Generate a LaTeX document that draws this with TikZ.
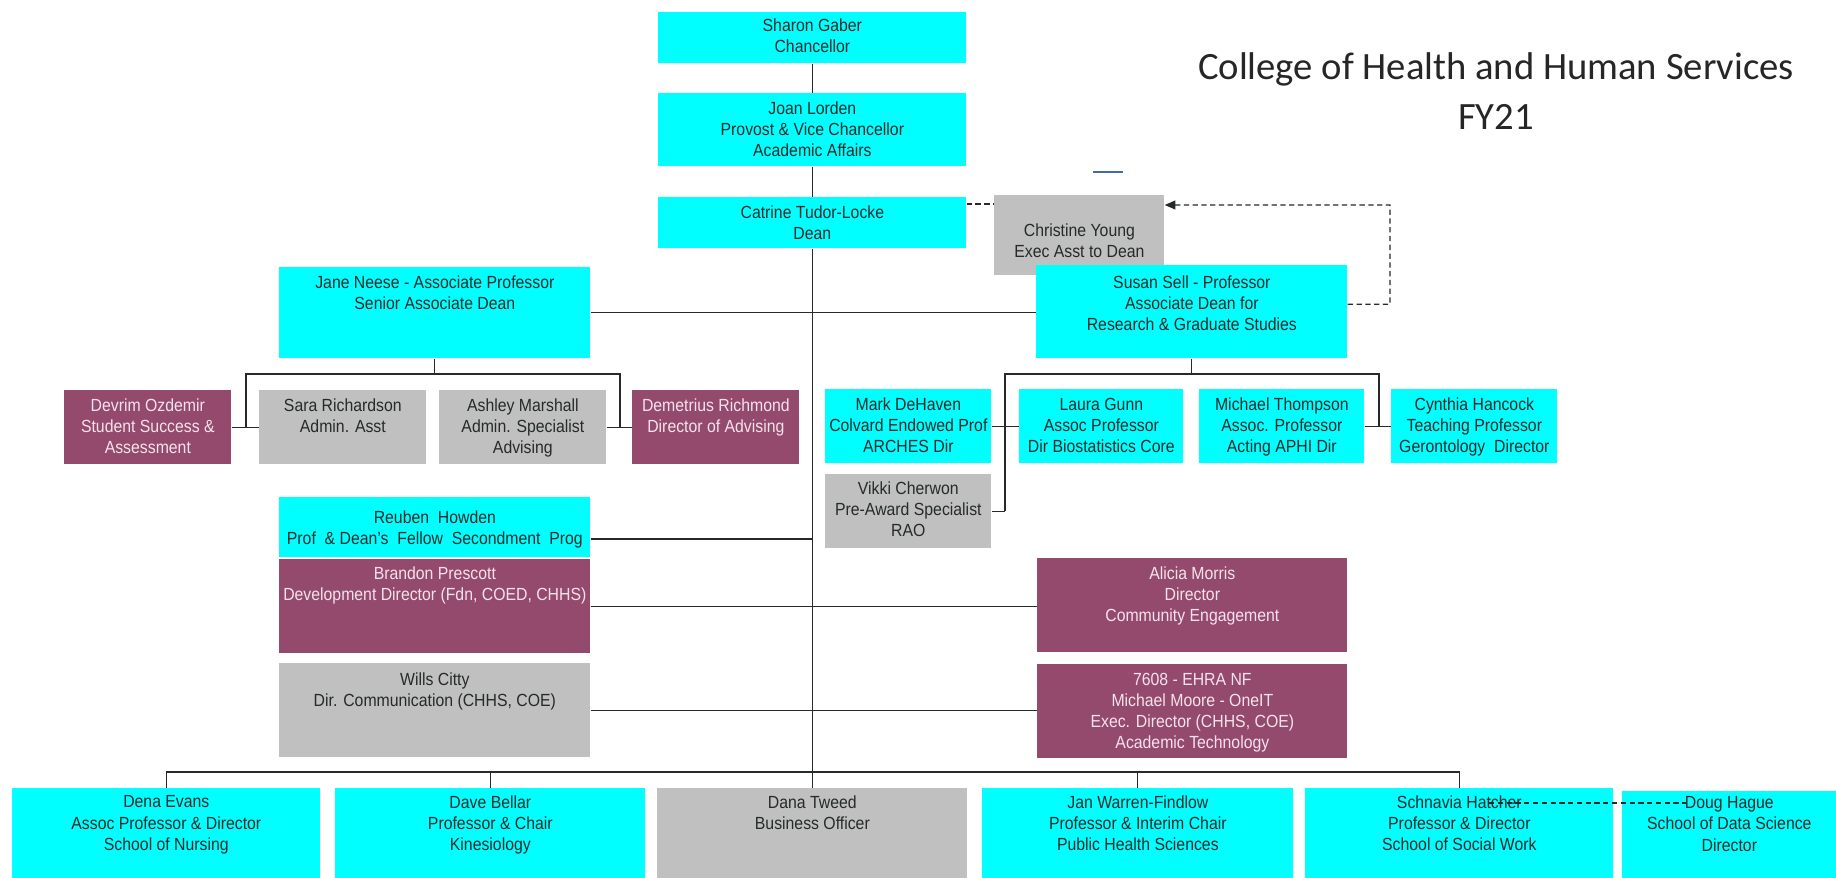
\documentclass[tikz,border=0pt]{standalone}
\usepackage{fontspec}
\setmainfont{Liberation Sans}[FakeStretch=0.9]
\newfontfamily\titlefont{Carlito}
\usetikzlibrary{arrows.meta, positioning}
\definecolor{deptcyan}{RGB}{0,255,255}
\definecolor{staffgrey}{RGB}{192,192,192}
\definecolor{extplum}{RGB}{148,74,108}
\definecolor{inkdark}{RGB}{38,42,42}
\definecolor{inklight}{RGB}{246,226,236}
\definecolor{strayblue}{RGB}{70,105,165}
\tikzset{
    boxsize/.style 2 args={minimum width=#1*0.02cm, minimum height=#2*0.02cm},
    cyanbox/.style={rectangle, fill=deptcyan, inner sep=0pt, anchor=north west},
    greybox/.style={rectangle, fill=staffgrey, inner sep=0pt, anchor=north west},
    plumbox/.style={rectangle, fill=extplum, inner sep=0pt, anchor=north west},
    boxtext/.style={align=center, inner sep=0pt, text=inkdark, font=\fontsize{10}{12}\selectfont},
    plumtext/.style={boxtext, text=inklight},
    titletext/.style={anchor=base, text=black!85, font=\titlefont\fontsize{22}{26}\selectfont},
    link/.style={draw=inkdark, line width=0.7pt},
    dashlink/.style={draw=inkdark, line width=0.7pt, dash pattern=on 3pt off 2pt},
}

\begin{document}
\begin{tikzpicture}[x=0.02cm, y=-0.02cm]

\useasboundingbox (0,0) rectangle (1836,878);
\fill[white] (0,0) rectangle (1836,878);

% Title
\node[titletext] (title) at (1496,80) {College of Health and Human Services};
\node[titletext] (year) at (1496,130) {FY21};
\draw[strayblue, line width=1.2pt] (1093,172) -- (1123,172);

% Chancellor, provost, dean
\node[cyanbox, boxsize={308}{51}] (sharon) at (658,12) {};
\node[boxtext, below=3.7pt of sharon.north] (sharon-t) {Sharon Gaber\\Chancellor};
\node[cyanbox, boxsize={308}{73}] (joan) at (658,93) {};
\node[boxtext, below=4.8pt of joan.north] (joan-t) {Joan Lorden\\Provost \& Vice Chancellor\\Academic Affairs};
\node[cyanbox, boxsize={308}{51}] (dean) at (658,197) {};
\node[boxtext, below=4.8pt of dean.north] (dean-t) {Catrine Tudor-Locke\\Dean};

% Dean's office
\node[greybox, boxsize={170}{80}] (chris) at (994,195) {};
\node[boxtext, below=16pt of chris.north] (chris-t) {Christine Young\\Exec Asst to Dean};
\node[cyanbox, boxsize={311}{93}] (susan) at (1036,265) {};
\node[boxtext, below=6pt of susan.north] (susan-t) {Susan Sell - Professor\\Associate Dean for\\Research \& Graduate Studies};
\node[cyanbox, boxsize={311}{91}] (jane) at (279,267) {};
\node[boxtext, below=4.8pt of jane.north] (jane-t) {Jane Neese - Associate Professor\\Senior Associate Dean};

% Under the senior associate dean
\node[plumbox, boxsize={167}{74}] (devrim) at (64,390) {};
\node[plumtext, below=4.8pt of devrim.north] (devrim-t) {Devrim Ozdemir\\Student Success \&\\Assessment};
\node[greybox, boxsize={167}{74}] (sara) at (259,390) {};
\node[boxtext, below=4.8pt of sara.north] (sara-t) {Sara Richardson\\Admin. Asst};
\node[greybox, boxsize={167}{74}] (ashley) at (439,390) {};
\node[boxtext, below=4.8pt of ashley.north] (ashley-t) {Ashley Marshall\\Admin. Specialist\\Advising};
\node[plumbox, boxsize={167}{74}] (demet) at (632,390) {};
\node[plumtext, below=4.8pt of demet.north] (demet-t) {Demetrius Richmond\\Director of Advising};

% Under the research dean
\node[cyanbox, boxsize={166}{74}] (mark) at (825,389) {};
\node[boxtext, below=4.8pt of mark.north] (mark-t) {Mark DeHaven\\Colvard Endowed Prof\\ARCHES Dir};
\node[cyanbox, boxsize={164}{74}] (laura) at (1019,389) {};
\node[boxtext, below=4.8pt of laura.north] (laura-t) {Laura Gunn\\Assoc Professor\\Dir Biostatistics Core};
\node[cyanbox, boxsize={165}{74}] (michael) at (1199,389) {};
\node[boxtext, below=4.8pt of michael.north] (michael-t) {Michael Thompson\\Assoc. Professor\\Acting APHI Dir};
\node[cyanbox, boxsize={166}{74}] (cynthia) at (1391,389) {};
\node[boxtext, below=4.8pt of cynthia.north] (cynthia-t) {Cynthia Hancock\\Teaching Professor\\Gerontology\ \ Director};
\node[greybox, boxsize={166}{74}] (vikki) at (825,474) {};
\node[boxtext, below=4.3pt of vikki.north] (vikki-t) {Vikki Cherwon\\Pre-Award Specialist\\RAO};

% Staff reporting to the dean
\node[cyanbox, boxsize={311}{60}] (reuben) at (279,497) {};
\node[boxtext, below=7.7pt of reuben.north] (reuben-t) {Reuben\ \ Howden\\Prof\ \ \& Dean's\ \ Fellow\ \ Secondment\ \ Prog};
\node[plumbox, boxsize={311}{94}] (brandon) at (279,559) {};
\node[plumtext, below=4.3pt of brandon.north] (brandon-t) {Brandon Prescott\\Development Director (Fdn, COED, CHHS)};
\node[greybox, boxsize={311}{94}] (wills) at (279,663) {};
\node[boxtext, below=5.4pt of wills.north] (wills-t) {Wills Citty\\Dir. Communication (CHHS, COE)};
\node[plumbox, boxsize={310}{94}] (alicia) at (1037,558) {};
\node[plumtext, below=4.8pt of alicia.north] (alicia-t) {Alicia Morris\\Director\\Community Engagement};
\node[plumbox, boxsize={310}{94}] (moore) at (1037,664) {};
\node[plumtext, below=4.8pt of moore.north] (moore-t) {7608 - EHRA NF\\Michael Moore - OneIT\\Exec. Director (CHHS, COE)\\Academic Technology};

% Schools and departments
\node[cyanbox, boxsize={308}{90}] (dena) at (12,788) {};
\node[boxtext, below=4.3pt of dena.north] (dena-t) {Dena Evans\\Assoc Professor \& Director\\School of Nursing};
\node[cyanbox, boxsize={310}{90}] (dave) at (335,788) {};
\node[boxtext, below=4.3pt of dave.north] (dave-t) {Dave Bellar\\Professor \& Chair\\Kinesiology};
\node[greybox, boxsize={310}{90}] (dana) at (657,788) {};
\node[boxtext, below=4.3pt of dana.north] (dana-t) {Dana Tweed\\Business Officer};
\node[cyanbox, boxsize={311}{90}] (jan) at (982,788) {};
\node[boxtext, below=4.3pt of jan.north] (jan-t) {Jan Warren-Findlow\\Professor \& Interim Chair\\Public Health Sciences};
\node[cyanbox, boxsize={308}{90}] (snh) at (1305,788) {};
\node[boxtext, below=4.3pt of snh.north] (snh-t) {Schnavia Hatcher\\Professor \& Director\\School of Social Work};
\node[cyanbox, boxsize={214}{87}] (doug) at (1622,791) {};
\node[boxtext, below=3.1pt of doug.north] (doug-t) {Doug Hague\\School of Data Science\\Director};

% Main line
\draw[link] (sharon) -- (joan);
\draw[link] (joan) -- (dean);
\draw[link] (dean.south) -- (dana.north);
\draw[link] (jane.east) -- (jane.east -| susan.west);

% Dotted lines to the assistant
\coordinate (dean-d) at ([yshift=-0.14cm]dean.north east);
\coordinate (chris-d) at ([yshift=-0.2cm]chris.north east);
\coordinate (susan-d) at ([yshift=0.15cm]susan.east);
\coordinate (loop-r) at (1390,205);
\draw[dashlink] (dean-d) -- (dean-d -| chris.west);
\draw[dashlink, -{Triangle[length=6pt, width=5pt]}] (susan-d) -| (loop-r) -- (chris-d);

% Senior associate dean's reports
\coordinate (jbus-l) at (246,374);
\coordinate (jbus-r) at (620,374);
\draw[link] (jane.south) -- (jane.south |- jbus-l);
\draw[link] (devrim.east -| jbus-l) -- (jbus-l) -- (jbus-r) -- (jbus-r |- ashley.east);
\draw[link] (devrim.east) -- (sara.west);
\draw[link] (ashley.east) -- (demet.west);

% Research dean's reports
\coordinate (sbus-l) at (1005,374);
\coordinate (sbus-r) at (1379,374);
\draw[link] (susan.south) -- (susan.south |- sbus-l);
\draw[link] (vikki.east -| sbus-l) -- (sbus-l) -- (sbus-r) -- (sbus-r |- michael.east);
\draw[link] (mark.east) -- (laura.west);
\draw[link] (michael.east) -- (cynthia.west);
\draw[link] (vikki.east) -- (vikki.east -| sbus-l);

% Staff lines
\coordinate (reuben-l) at ([yshift=-0.84cm]reuben.north east);
\draw[link] (reuben-l) -- (reuben-l -| dean.south);
\draw[link] (brandon.east) -- (brandon.east -| alicia.west);
\draw[link] (wills.east) -- (wills.east -| moore.west);

% Schools bus
\coordinate (bus) at (812,772);
\draw[link] (dena.north) -- (dena.north |- bus) -- (bus -| snh.north) -- (snh.north);
\draw[link] (dave.north) -- (dave.north |- bus);
\draw[link] (jan.north) -- (jan.north |- bus);

% Data science link
\coordinate (snh-d) at (1489,803);
\coordinate (doug-d) at (1687,803);
\draw[dashlink] (snh-d) -- (doug-d);

\end{tikzpicture}
\end{document}
